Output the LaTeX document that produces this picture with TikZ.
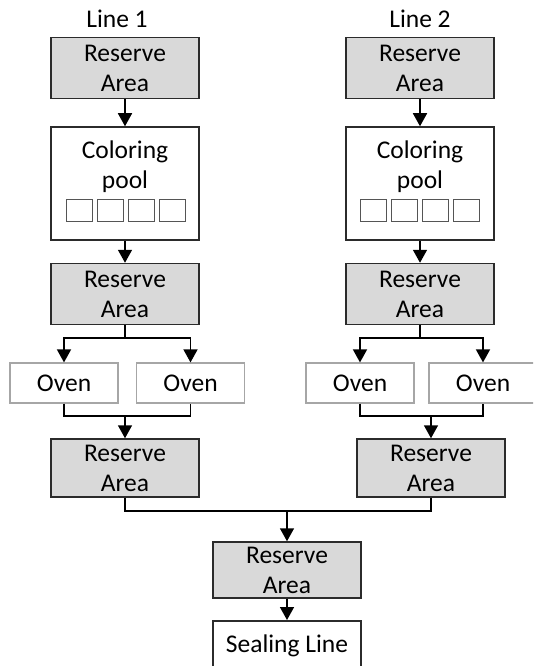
\documentclass[tikz,border=0pt]{standalone}
\usepackage{fontspec}
\setmainfont{Carlito}
\usetikzlibrary{arrows.meta}
\definecolor{resfill}{HTML}{D9D9D9}
\definecolor{edge}{HTML}{2B2B2B}
\definecolor{ovenedge}{HTML}{A6A6A6}
\begin{document}
\begin{tikzpicture}[x=1pt,y=-1pt,
  every node/.style={font=\fontsize{25.5}{30}\selectfont, text=black, align=center, inner sep=0pt},
  reserve/.style={draw=edge, line width=1.5pt, fill=resfill, minimum width=148pt, minimum height=61pt},
  whitebox/.style={draw=edge, line width=1.5pt, fill=white, minimum width=148pt},
  oven/.style={draw=ovenedge, line width=1.2pt, fill=white, minimum width=108pt, minimum height=40pt},
  sq/.style={draw=edge!80, line width=1pt, minimum width=26pt, minimum height=22pt},
  conn/.style={draw=black, line width=1.6pt},
  arr/.style={conn, -{Triangle[length=13pt,width=14pt]}},
  lbl/.style={}]
\path[use as bounding box] (0,0) rectangle (533,666);
\clip (0,0) rectangle (533,666);
% Line 1
\node[lbl] (l1) at (117,19) {Line 1};
\node[reserve] (a1) at (125,68) {Reserve\\Area};
\node[whitebox, minimum height=113pt] (p1) at (125,183.5) {};
\node (p1t) at (125,167) {Coloring\\pool};
\foreach \i in {0,1,2,3}{\node[sq] (s1\i) at (79+31*\i,210) {};}
\node[reserve] (b1) at (125,294) {Reserve\\Area};
\node[oven] (o11) at (64,383) {Oven};
\node[oven] (o12) at (190.5,383) {Oven};
\node[reserve, minimum height=58pt] (c1) at (125,468) {Reserve\\Area};
% Line 2
\node[lbl] (l2) at (420,19) {Line 2};
\node[reserve] (a2) at (420,68) {Reserve\\Area};
\node[whitebox, minimum height=113pt] (p2) at (420,183.5) {};
\node (p2t) at (420,167) {Coloring\\pool};
\foreach \i in {0,1,2,3}{\node[sq] (s2\i) at (373.5+31*\i,210) {};}
\node[reserve] (b2) at (420,294) {Reserve\\Area};
\node[oven] (o21) at (360,383) {Oven};
\node[oven] (o22) at (483,383) {Oven};
\node[reserve, minimum height=58pt] (c2) at (431,468) {Reserve\\Area};
% Final
\node[reserve, minimum height=56pt] (f) at (287,570) {Reserve\\Area};
\node[whitebox, minimum height=50pt, anchor=north] (seal) at (287,620) {Sealing Line};
% coordinates
\coordinate (br1) at (125,338);
\coordinate (mg1) at (125,416);
\coordinate (br2) at (420,338);
\coordinate (mg2) at (431,416);
\coordinate (jn) at (287,511);
% connectors line 1
\draw[arr] (a1) -- (p1);
\draw[arr] (p1) -- (b1);
\draw[conn] (b1) -- (br1);
\draw[arr] (br1) -| (o11);
\draw[arr] (br1) -| (o12);
\draw[conn] (o11) |- (mg1) -| (o12);
\draw[arr] (mg1) -- (c1);
% connectors line 2
\draw[arr] (a2) -- (p2);
\draw[arr] (p2) -- (b2);
\draw[conn] (b2) -- (br2);
\draw[arr] (br2) -| (o21);
\draw[arr] (br2) -| (o22);
\draw[conn] (o21) |- (mg2) -| (o22);
\draw[arr] (mg2) -- (c2);
% join
\draw[conn] (c1) |- (jn);
\draw[conn] (c2) |- (jn);
\draw[arr] (jn) -- (f);
\draw[arr] (f) -- (seal);
\end{tikzpicture}
\end{document}
